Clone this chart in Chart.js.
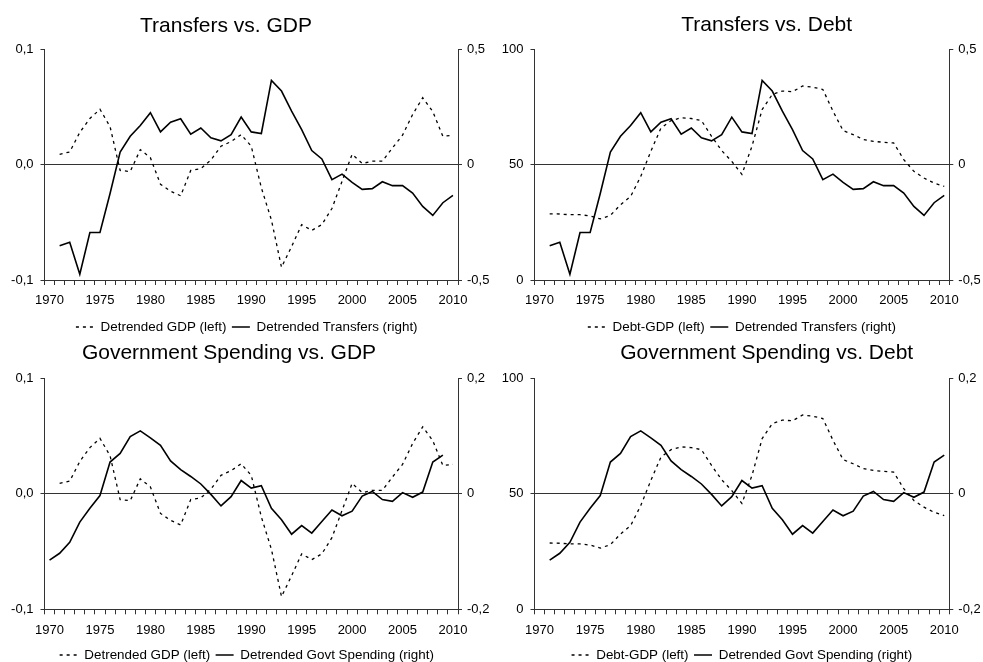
<!DOCTYPE html>
<html>
<head>
<meta charset="utf-8">
<title>Transfers and Government Spending vs. GDP and Debt</title>
<script src="https://cdn.jsdelivr.net/npm/chart.js@4.4.1/dist/chart.umd.min.js"></script>
<style>
  html, body { margin: 0; padding: 0; background: #fff; overflow: hidden; }
  canvas { position: absolute; }
</style>
</head>
<body>
<canvas id="transfersGdp" width="490" height="345" style="left:0;top:0"></canvas>
<canvas id="transfersDebt" width="493" height="345" style="left:490px;top:0"></canvas>
<canvas id="spendingGdp" width="490" height="345" style="left:0;top:331px"></canvas>
<canvas id="spendingDebt" width="493" height="345" style="left:490px;top:331px"></canvas>
<script>
// Years on the category axis (one label every 5 years is shown)
const years = ['1970', '1971', '1972', '1973', '1974', '1975', '1976', '1977', '1978', '1979',
  '1980', '1981', '1982', '1983', '1984', '1985', '1986', '1987', '1988', '1989',
  '1990', '1991', '1992', '1993', '1994', '1995', '1996', '1997', '1998', '1999',
  '2000', '2001', '2002', '2003', '2004', '2005', '2006', '2007', '2008', '2009', '2010'];

// Detrended GDP, 1971-2010 (left axis)
const gdpGap = [0.009, 0.011, 0.028, 0.040, 0.048, 0.033, -0.005, -0.006, 0.013, 0.006,
  -0.017, -0.023, -0.027, -0.005, -0.0035, 0.004, 0.016, 0.020, 0.026, 0.016,
  -0.020, -0.048, -0.089, -0.071, -0.052, -0.057, -0.052, -0.038, -0.0145, 0.009,
  0.001, 0.003, 0.003, 0.0145, 0.0255, 0.0435, 0.058, 0.046, 0.0246, 0.0255];

// Detrended transfers, 1971-2010 (right axis)
const transfers = [-0.352, -0.336, -0.475, -0.294, -0.294, -0.125, 0.055, 0.123, 0.170, 0.225,
  0.142, 0.184, 0.199, 0.132, 0.159, 0.116, 0.103, 0.130, 0.206, 0.142,
  0.135, 0.365, 0.319, 0.232, 0.152, 0.061, 0.025, -0.065, -0.041, -0.077,
  -0.107, -0.104, -0.074, -0.091, -0.091, -0.123, -0.181, -0.220, -0.165, -0.133];

// Debt-GDP ratio, 1971-2010 (left axis)
const debtRatio = [28.7, 28.6, 28.3, 28.3, 27.8, 26.5, 28.0, 32.6, 36.2, 44.9,
  55.8, 65.9, 69.1, 70.3, 70.0, 69.1, 62.3, 56.1, 51.4, 45.8,
  58.0, 73.9, 80.4, 81.9, 81.6, 84.1, 83.6, 82.6, 73.2, 64.8,
  63.0, 60.9, 60.1, 59.7, 59.4, 52.2, 47.1, 44.2, 42.0, 40.6];

// Detrended government spending (right axis); 40 observations.
// The GDP panel plots them from 1970, the Debt panel from 1971.
const govtSpending = [-0.115, -0.103, -0.084, -0.049, -0.025, -0.003, 0.055, 0.070, 0.099, 0.109,
  0.097, 0.084, 0.057, 0.042, 0.030, 0.017, -0.001, -0.021, -0.005, 0.023,
  0.010, 0.014, -0.025, -0.045, -0.070, -0.055, -0.068, -0.048, -0.028, -0.038,
  -0.030, -0.004, 0.004, -0.010, -0.013, 0.002, -0.006, 0.003, 0.055, 0.067];

const gdpTicks = [-0.1, 0, 0.1];
const debtTicks = [0, 50, 100];
const transferTicks = [-0.5, 0, 0.5];
const spendingTicks = [-0.2, 0, 0.2];

const FONT = '"Liberation Sans", Arial, Helvetica, sans-serif';
const AXIS = '#333';
const LEFT_AXIS_W = 40;
const RIGHT_AXIS_W = 31;
const LEGEND_FONT = 13.4;
const LEGEND_PAD = 5.5;

Chart.defaults.font.family = FONT;
Chart.defaults.color = '#000';

// Title drawn at a given spot (the titles are not centred on the plot area)
const panelTitle = {
  id: 'panelTitle',
  afterDraw(chart, args, opts) {
    const ctx = chart.ctx;
    ctx.save();
    ctx.font = '21px ' + FONT;
    ctx.fillStyle = '#000';
    ctx.textAlign = 'center';
    ctx.textBaseline = 'alphabetic';
    ctx.fillText(opts.text, opts.x, opts.y);
    ctx.restore();
  }
};

function commaFormat(v) {
  if (Math.abs(v) < 1e-9) return '0';
  return String(Math.round(v * 100) / 100).replace('.', ',');
}

function fixedComma(v) {
  return (Math.abs(v) < 1e-9 ? 0 : v).toFixed(1).replace('.', ',');
}

// legend samples: keep the dash pattern of each line
function lineLegendLabels(chart) {
  return chart.data.datasets.map((ds, i) => ({
    text: ds.label,
    datasetIndex: i,
    hidden: false,
    fillStyle: 'rgba(0,0,0,0)',
    strokeStyle: ds.borderColor,
    lineWidth: ds.borderWidth,
    lineDash: ds.borderDash || [],
    lineCap: 'butt',
    pointStyle: 'line'
  }));
}

function makePanel(canvasId, p) {
  const canvas = document.getElementById(canvasId);
  const W = canvas.width, H = canvas.height;
  const legendHeight = LEGEND_FONT + LEGEND_PAD + 10;
  const xAxisHeight = p.legendY - p.bottom - LEGEND_PAD - LEGEND_FONT / 2;

  return new Chart(canvas, {
    type: 'line',
    data: {
      labels: years,
      datasets: [
        {
          label: p.leftLabel,
          data: p.leftData,
          yAxisID: 'yLeft',
          borderColor: '#000',
          backgroundColor: '#000',
          borderWidth: 1.3,
          borderDash: [3, 4],
          pointRadius: 0,
          tension: 0,
          fill: false
        },
        {
          label: p.rightLabel,
          data: p.rightData,
          yAxisID: 'yRight',
          borderColor: '#000',
          backgroundColor: '#000',
          borderWidth: 1.6,
          pointRadius: 0,
          tension: 0,
          fill: false
        }
      ]
    },
    options: {
      responsive: false,
      animation: false,
      devicePixelRatio: 1,
      events: [],
      layout: {
        padding: {
          left: p.left - LEFT_AXIS_W,
          right: W - p.right - RIGHT_AXIS_W,
          top: p.top,
          bottom: H - p.bottom - xAxisHeight - legendHeight
        }
      },
      scales: {
        x: {
          type: 'category',
          offset: true,
          afterFit: (scale) => { scale.height = xAxisHeight; },
          border: { color: AXIS, width: 1 },
          grid: { offset: true, drawOnChartArea: false, drawTicks: true, tickLength: 5, color: AXIS },
          ticks: {
            autoSkip: false,
            maxRotation: 0,
            padding: 8,
            font: { size: 13 },
            callback: (v, i) => (i % 5 === 0 ? years[i] : '')
          }
        },
        yLeft: {
          type: 'linear',
          position: 'left',
          min: p.leftTicks[0],
          max: p.leftTicks[2],
          afterFit: (scale) => { scale.width = LEFT_AXIS_W; },
          afterBuildTicks: (scale) => { scale.ticks = p.leftTicks.map(v => ({ value: v })); },
          border: { color: AXIS, width: 1 },
          grid: { drawOnChartArea: false, tickLength: 4, color: AXIS },
          ticks: { padding: 7, font: { size: 13 }, callback: p.leftFormat }
        },
        yRight: {
          type: 'linear',
          position: 'right',
          min: p.rightTicks[0],
          max: p.rightTicks[2],
          afterFit: (scale) => { scale.width = RIGHT_AXIS_W; },
          afterBuildTicks: (scale) => { scale.ticks = p.rightTicks.map(v => ({ value: v })); },
          border: { color: AXIS, width: 1 },
          grid: {
            drawOnChartArea: true,
            tickLength: 4,
            tickColor: AXIS,
            color: (ctx) => (ctx.tick && Math.abs(ctx.tick.value) < 1e-9 ? AXIS : 'rgba(0,0,0,0)')
          },
          ticks: { padding: 5, font: { size: 13 }, callback: commaFormat }
        }
      },
      plugins: {
        tooltip: { enabled: false },
        title: { display: false },
        panelTitle: { text: p.title, x: p.titleX, y: p.titleY },
        legend: {
          display: true,
          position: 'bottom',
          fullSize: p.legendFull,
          labels: {
            usePointStyle: true,
            pointStyle: 'line',
            pointStyleWidth: 18,
            padding: LEGEND_PAD,
            color: '#000',
            font: { size: LEGEND_FONT },
            generateLabels: lineLegendLabels
          }
        }
      }
    },
    plugins: [panelTitle]
  });
}

const from1971 = (arr) => [null].concat(arr);

makePanel('transfersGdp', {
  title: 'Transfers vs. GDP', titleX: 226, titleY: 31.7,
  left: 44.5, right: 458, top: 49.3, bottom: 280, legendY: 327, legendFull: true,
  leftLabel: 'Detrended GDP (left)', leftData: from1971(gdpGap), leftTicks: gdpTicks, leftFormat: fixedComma,
  rightLabel: 'Detrended Transfers (right)', rightData: from1971(transfers), rightTicks: transferTicks
});

makePanel('transfersDebt', {
  title: 'Transfers vs. Debt', titleX: 276.7, titleY: 31,
  left: 44.5, right: 459.3, top: 49.3, bottom: 280, legendY: 327, legendFull: false,
  leftLabel: 'Debt-GDP (left)', leftData: from1971(debtRatio), leftTicks: debtTicks, leftFormat: (v) => String(v),
  rightLabel: 'Detrended Transfers (right)', rightData: from1971(transfers), rightTicks: transferTicks
});

makePanel('spendingGdp', {
  title: 'Government Spending vs. GDP', titleX: 229, titleY: 28.3,
  left: 44.5, right: 458, top: 47.3, bottom: 278.3, legendY: 324, legendFull: true,
  leftLabel: 'Detrended GDP (left)', leftData: from1971(gdpGap), leftTicks: gdpTicks, leftFormat: fixedComma,
  rightLabel: 'Detrended Govt Spending (right)', rightData: govtSpending.concat([null]), rightTicks: spendingTicks
});

makePanel('spendingDebt', {
  title: 'Government Spending vs. Debt', titleX: 276.7, titleY: 28.3,
  left: 44.5, right: 459.3, top: 47.3, bottom: 278.3, legendY: 324, legendFull: false,
  leftLabel: 'Debt-GDP (left)', leftData: from1971(debtRatio), leftTicks: debtTicks, leftFormat: (v) => String(v),
  rightLabel: 'Detrended Govt Spending (right)', rightData: from1971(govtSpending), rightTicks: spendingTicks
});
</script>
</body>
</html>
